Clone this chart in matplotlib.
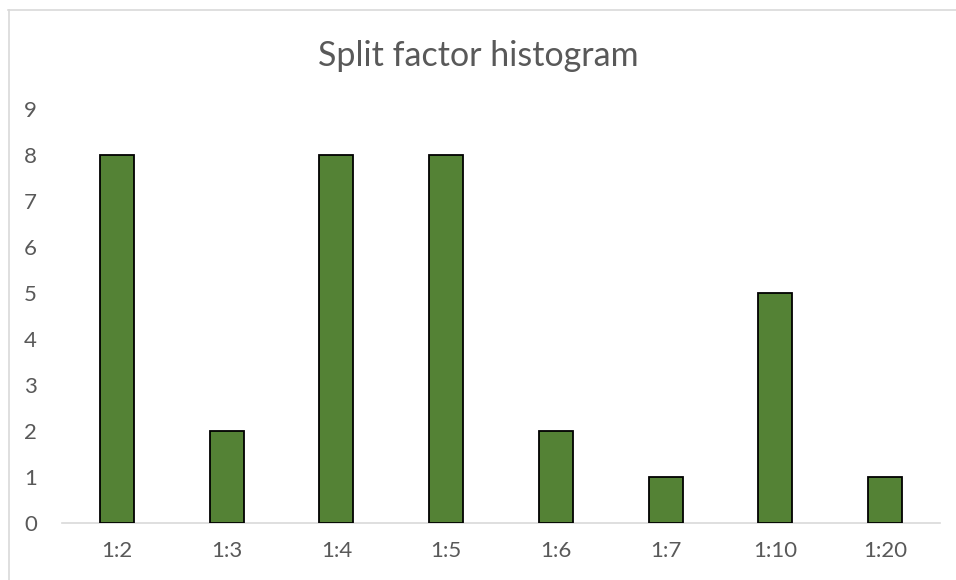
import matplotlib
matplotlib.use("Agg")
import matplotlib.pyplot as plt
from matplotlib.lines import Line2D
import numpy as np

# split factor counts
categories = ["1:2", "1:3", "1:4", "1:5", "1:6", "1:7", "1:10", "1:20"]
counts = [8, 2, 8, 8, 2, 1, 5, 1]

plt.rcParams['font.family'] = ['Lato', 'DejaVu Sans']
text_gray = '#595959'

fig = plt.figure(figsize=(9.56, 5.80), dpi=100)
ax = fig.add_axes([0.0649, 0.0983, 0.9184, 0.7138])

x = np.arange(len(categories))
ax.bar(x, counts, width=0.31, color='#548235', edgecolor='black', linewidth=1.3, zorder=3)

ax.set_xlim(-0.5, len(categories) - 0.5)
ax.set_ylim(0, 9)
ax.set_yticks(range(0, 10))
ax.set_xticks(x)
ax.set_xticklabels(categories)
ax.tick_params(axis='both', length=0, colors=text_gray, labelsize=16)
ax.tick_params(axis='y', pad=18)
ax.tick_params(axis='x', pad=13)

for side in ['top', 'right', 'left']:
    ax.spines[side].set_visible(False)
ax.spines['bottom'].set_color('#d9d9d9')
ax.spines['bottom'].set_linewidth(1.2)

fig.text(0.5, 0.903, "Split factor histogram", ha='center', va='center',
         fontsize=24.5, color=text_gray)

# chart area border
fig.add_artist(Line2D([8 / 956, 1], [1 - 10 / 580, 1 - 10 / 580],
                      transform=fig.transFigure, color='#d9d9d9', linewidth=1.2))
fig.add_artist(Line2D([9 / 956, 9 / 956], [0, 1 - 10 / 580],
                      transform=fig.transFigure, color='#d9d9d9', linewidth=1.2))

plt.savefig("out.png", dpi=100)
